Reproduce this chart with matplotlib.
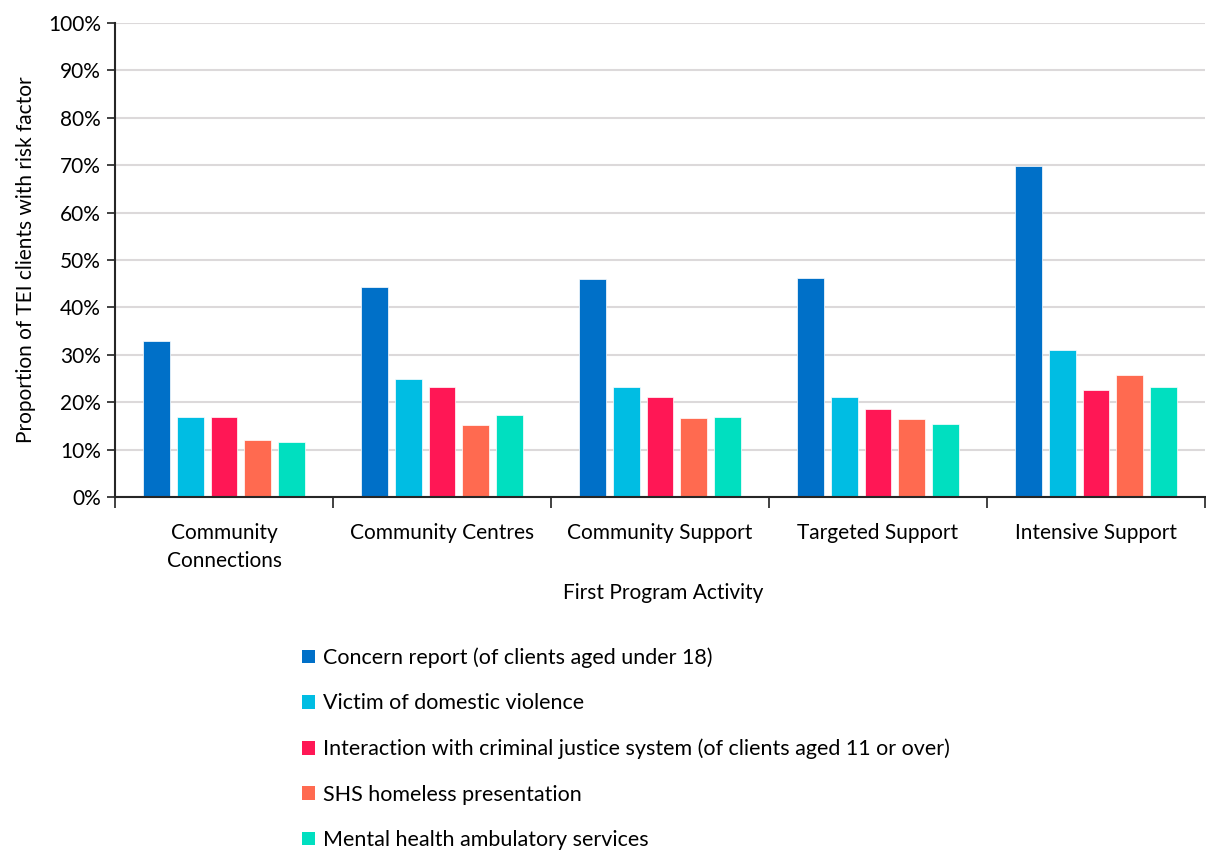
import numpy as np
import matplotlib.pyplot as plt
from matplotlib.patches import Patch
from matplotlib.ticker import PercentFormatter, FixedLocator

categories = ["Community\nConnections", "Community Centres", "Community Support",
              "Targeted Support", "Intensive Support"]
series = ["Concern report (of clients aged under 18)",
          "Victim of domestic violence",
          "Interaction with criminal justice system (of clients aged 11 or over)",
          "SHS homeless presentation",
          "Mental health ambulatory services"]
concern = [32.9, 44.2, 45.9, 46.3, 69.8]
victim = [16.9, 24.8, 23.3, 21.1, 31.0]
criminal = [16.9, 23.2, 21.0, 18.5, 22.6]
shs = [12.0, 15.1, 16.7, 16.5, 25.8]
mental = [11.5, 17.2, 16.8, 15.4, 23.2]
colors = ["#0070c8", "#00bde3", "#ff1755", "#ff6a50", "#00dfc0"]

plt.rcParams['font.family'] = ['Lato', 'DejaVu Sans']
plt.rcParams['font.size'] = 15

fig = plt.figure(figsize=(12.06, 8.5), dpi=100)
ax = fig.add_axes([115 / 1206, 1 - 497 / 850, 1090 / 1206, 474 / 850])

x = np.arange(len(categories))
step = 0.155
width = 0.122
data = [concern, victim, criminal, shs, mental]
for i, (vals, c) in enumerate(zip(data, colors)):
    ax.bar(x + (i - 2) * step, vals, width, color=c, edgecolor="white",
           linewidth=0.5, zorder=3)

ax.set_xlim(-0.5, len(categories) - 0.5)
ax.set_ylim(0, 100)
ax.set_yticks(np.arange(0, 101, 10))
ax.yaxis.set_major_formatter(PercentFormatter(decimals=0))
ax.grid(axis="y", color="#dcd9da", linewidth=1.5, zorder=0)

ax.xaxis.set_major_locator(FixedLocator(np.arange(-0.5, len(categories), 1)))
ax.xaxis.set_minor_locator(FixedLocator(x))
ax.set_xticklabels([], minor=False)
ax.set_xticklabels(categories, minor=True, linespacing=1.45)
ax.tick_params(axis="x", which="minor", length=0, pad=19)
ax.tick_params(axis="x", which="major", length=8, width=1.3, color="#333333")
ax.tick_params(axis="y", length=6, width=1.3, color="#333333", pad=4)

for s in ["top", "right"]:
    ax.spines[s].set_visible(False)
for s in ["left", "bottom"]:
    ax.spines[s].set_linewidth(1.5)
    ax.spines[s].set_color("#262626")
    ax.spines[s].set_zorder(4)

ax.set_ylabel("Proportion of TEI clients with risk factor", labelpad=9)
fig.text(663 / 1206, 1 - 593 / 850, "First Program Activity", ha="center",
         va="center", fontsize=15)

handles = [Patch(facecolor=c, edgecolor="none") for c in colors]
fig.legend(handles, series, loc="upper left",
           bbox_to_anchor=(283 / 1206, 1 - 628 / 850), frameon=False,
           handlelength=0.6, handleheight=0.6, handletextpad=0.35,
           labelspacing=1.18, fontsize=15.5)

plt.savefig("out.png", dpi=100)
